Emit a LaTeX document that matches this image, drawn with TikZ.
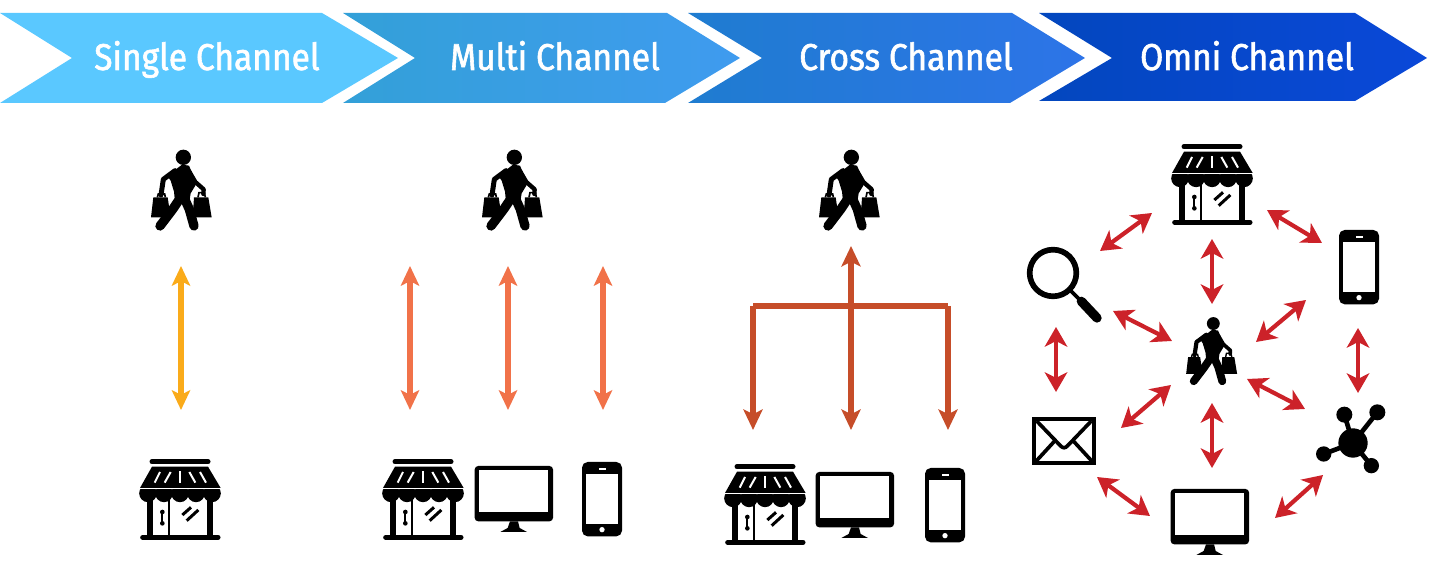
\documentclass[tikz,border=0pt]{standalone}
\usepackage{fontspec}
\setmainfont{Fira Sans}[FakeStretch=0.9,FakeBold=1.6]
\usetikzlibrary{arrows.meta}
\definecolor{redarr}{HTML}{CC2229}
\definecolor{orarr}{HTML}{FAAB1A}
\definecolor{corarr}{HTML}{F17249}
\definecolor{rustarr}{HTML}{C64D29}
\definecolor{chA}{HTML}{5AC8FF}
\definecolor{chBl}{HTML}{33A0D8}
\definecolor{chBr}{HTML}{3F9BEF}
\definecolor{chCl}{HTML}{1F7CD0}
\definecolor{chCr}{HTML}{2D74E8}
\definecolor{chDl}{HTML}{0347BE}
\definecolor{chDr}{HTML}{0A48D8}
\tikzset{
  x=0.01cm,y=-0.01cm,
  heading/.style={text=white,font=\fontsize{10.6}{12}\selectfont,inner sep=0pt,anchor=base},
  yarrow/.style={draw=#1,line width=1.5pt,{Stealth[length=5.6pt,width=5.2pt,inset=1.3pt]}-{Stealth[length=5.6pt,width=5.2pt,inset=1.3pt]}},
  redlink/.style={draw=redarr,line width=1.2pt,{Stealth[length=5.6pt,width=6.4pt,inset=1.6pt]}-{Stealth[length=5.6pt,width=6.4pt,inset=1.6pt]}},
  crossline/.style={draw=rustarr,line width=1.5pt},
  crosstip/.style={draw=rustarr,line width=1.5pt,-{Stealth[length=5.8pt,width=5.4pt,inset=1.3pt]}},
  pics/walker/.style={code={
    \pgfmathsetlengthmacro\icu{#1*0.0948pt}
    \begin{scope}[scale=#1/3,shift={(-180,-180)}]
      \fill (190,82) circle (23);
      \fill (142,138) -- (186,104) -- (207,107) -- (230,160) -- (212,190) -- (208,215) -- (165,215) -- (162,185) -- (152,152) -- cycle;
      \draw[line width=15*\icu,line join=round,line cap=round] (165,122) -- (130,148) -- (123,195);
      \draw[line width=13*\icu,line join=round,line cap=round] (208,125) -- (226,156) -- (251,178) -- (250,192);
      \draw[line width=28*\icu,line join=round,line cap=round] (185,198) -- (158,238) -- (120,288);
      \draw[line width=28*\icu,line join=round,line cap=round] (190,198) -- (208,238) -- (222,288);
      \fill (100,202) -- (143,202) -- (152,262) -- (93,262) -- cycle;
      \fill (222,202) -- (265,202) -- (275,262) -- (218,262) -- cycle;
      \draw[line width=5*\icu] (112,202) -- (115,192) -- (134,192) -- (136,202);
      \draw[line width=5*\icu] (234,202) -- (237,188) -- (253,188) -- (256,202);
    \end{scope}
  }},
  pics/shop/.style={code={
    \pgfmathsetlengthmacro\icu{#1*0.0948pt}
    \begin{scope}[scale=#1/3,shift={(-160,-150)}]
      \draw[line width=15*\icu,line cap=round] (76,35) -- (244,35);
      \fill (76,50) -- (244,50) -- (282,114) -- (40,114) -- cycle;
      \begin{scope}[draw=white,line width=6*\icu]
        \draw (100,66) -- (84,98);
        \draw (132,66) -- (114,98);
        \draw (160,64) -- (160,98);
        \draw (188,66) -- (206,98);
        \draw (220,66) -- (238,98);
      \end{scope}
      \begin{scope}
        \clip (30,120) rectangle (290,170);
        \foreach \cx in {64,112,160,208,256} \fill (\cx,130) circle (26.5);
      \end{scope}
      \fill (62,140) rectangle (80,262);
      \fill (241,140) rectangle (259,262);
      \fill (124,140) rectangle (131,262);
      \draw[line width=15*\icu,line cap=round] (48,262) -- (274,262);
      \draw[line width=6*\icu,line cap=round] (107,186) -- (107,220);
      \fill (107,186) circle (7);
      \fill (107,220) circle (7);
      \draw[line width=9*\icu] (167,195) -- (193,172);
      \draw[line width=9*\icu] (180,212) -- (215,180);
    \end{scope}
  }},
  pics/monitor/.style={code={
    \begin{scope}[scale=#1/3,shift={(-432,-150)}]
      \fill[rounded corners=1pt] (314,48) rectangle (549,214);
      \fill[white] (328,60) rectangle (535,185);
      \fill (420,214) -- (444,214) -- (449,234) -- (471,246) -- (391,246) -- (413,234) -- cycle;
    \end{scope}
  }},
  pics/phone/.style={code={
    \pgfmathsetlengthmacro\icu{#1*0.0948pt}
    \begin{scope}[scale=#1/3,shift={(-697,-148)}]
      \fill[rounded corners=1.6pt] (637,37) rectangle (757,260);
      \fill[white] (649,72) rectangle (746,224);
      \draw[white,line width=4*\icu] (688,58) -- (708,58);
      \fill[white] (697,240) circle (8);
    \end{scope}
  }},
  pics/lens/.style={code={
    \pgfmathsetlengthmacro\icu{#1*0.0948pt}
    \begin{scope}[scale=#1/3]
      \draw[line width=17*\icu] (0,0) circle (70);
      \draw[line width=11*\icu] (52,52) -- (85,85);
      \draw[line width=28*\icu,line cap=round] (85,85) -- (132,135);
    \end{scope}
  }},
  pics/mail/.style={code={
    \pgfmathsetlengthmacro\icu{#1*0.0948pt}
    \begin{scope}[scale=#1/3]
      \draw[line width=12*\icu] (-89,-66) rectangle (89,66);
      \draw[line width=11*\icu,line join=round] (-82,-60) -- (-10,15) .. controls (-3,22) and (3,22) .. (10,15) -- (82,-60);
      \draw[line width=11*\icu] (-85,62) -- (-28,0);
      \draw[line width=11*\icu] (85,62) -- (28,0);
    \end{scope}
  }},
  pics/network/.style={code={
    \pgfmathsetlengthmacro\icu{#1*0.0948pt}
    \begin{scope}[scale=#1/3]
      \foreach \px/\py/\r in {-26/-85/24,73/-92/24,-88/33/23,55/68/23}{
        \draw[line width=14*\icu] (0,0) -- (\px,\py);
        \fill (\px,\py) circle (\r);
      }
      \fill (0,0) circle (44);
    \end{scope}
  }}
}
\begin{document}
\begin{tikzpicture}
\useasboundingbox (0,0) rectangle (1431,562);
% banner
\fill[chA] (0,13) -- (322,13) -- (398,58) -- (322,103) -- (0,103) -- (72,58) -- cycle;
\shade[left color=chBl,right color=chBr] (343,13) -- (667,13) -- (740,58) -- (665,103) -- (343,103) -- (415,58) -- cycle;
\shade[left color=chCl,right color=chCr] (688,13) -- (1012,13) -- (1085,58) -- (1010,103) -- (688,103) -- (762,58) -- cycle;
\shade[left color=chDl,right color=chDr] (1039,13) -- (1355,13) -- (1427,58) -- (1355,101) -- (1039,101) -- (1112,58) -- cycle;
\node[heading] (hA) at (207,70) {Single Channel};
\node[heading] (hB) at (555,70) {Multi Channel};
\node[heading] (hC) at (906,70) {Cross Channel};
\node[heading] (hD) at (1247,70) {Omni Channel};
% icons, first three columns
\pic (walkA) at (180,190) {walker=1};
\pic (walkB) at (511,190) {walker=1};
\pic (walkC) at (848,190) {walker=1};
\pic (shopA) at (180,500) {shop=1};
\pic (shopB) at (423,500) {shop=1};
\pic (monB) at (514,500) {monitor=1};
\pic (phoneB) at (602,499) {phone=1};
\pic (shopC) at (765,505) {shop=1};
\pic (monC) at (855,506) {monitor=1};
\pic (phoneC) at (945,505) {phone=1};
% omni column icons
\pic (walkD) at (1210.5,351) {walker=0.84};
\pic (shopD) at (1212,185) {shop=1};
\pic (phoneD) at (1359,267) {phone=1};
\pic (monD) at (1210,523) {monitor=1};
\pic (lensD) at (1053,273) {lens=1};
\pic (mailD) at (1064,441) {mail=1};
\pic (netD) at (1353,443) {network=1};
% connector ends
\foreach \n/\x/\y in {
  sa/181/266,sb/181/410,
  ma/410/266,mb/410/410,mc/508/266,md/508/410,me/603/266,mf/603/410,
  ca/851/246,cb/851/306,cl/753/306,cr/948/306,cc/851/430,cd/753/430,ce/948/430,
  r1a/1212/239,r1b/1212/304,r2a/1212/403,r2b/1212/468,
  r3a/1113/311,r3b/1172/341,r4a/1256/342,r4b/1306/300,
  r5a/1171/385,r5b/1121/428,r6a/1247/379,r6b/1305/409,
  r7a/1056/327,r7b/1056/392,r8a/1358/328,r8b/1358/393,
  r9a/1100/251,r9b/1152/213,r10a/1267/210,r10b/1322/243,
  r11a/1097/477,r11b/1150/516,r12a/1275/518,r12b/1323/475}
  \coordinate (\n) at (\x,\y);
% connectors
\draw[yarrow=orarr] (sa) -- (sb);
\draw[yarrow=corarr] (ma) -- (mb);
\draw[yarrow=corarr] (mc) -- (md);
\draw[yarrow=corarr] (me) -- (mf);
\draw[crosstip] (cb) -- (ca);
\draw[crossline] (cl) -- (cr);
\draw[crosstip] (cb) -- (cc);
\draw[crosstip] (cl) -- (cd);
\draw[crosstip] (cr) -- (ce);
\foreach \i in {1,...,12} \draw[redlink] (r\i a) -- (r\i b);
\end{tikzpicture}
\end{document}
